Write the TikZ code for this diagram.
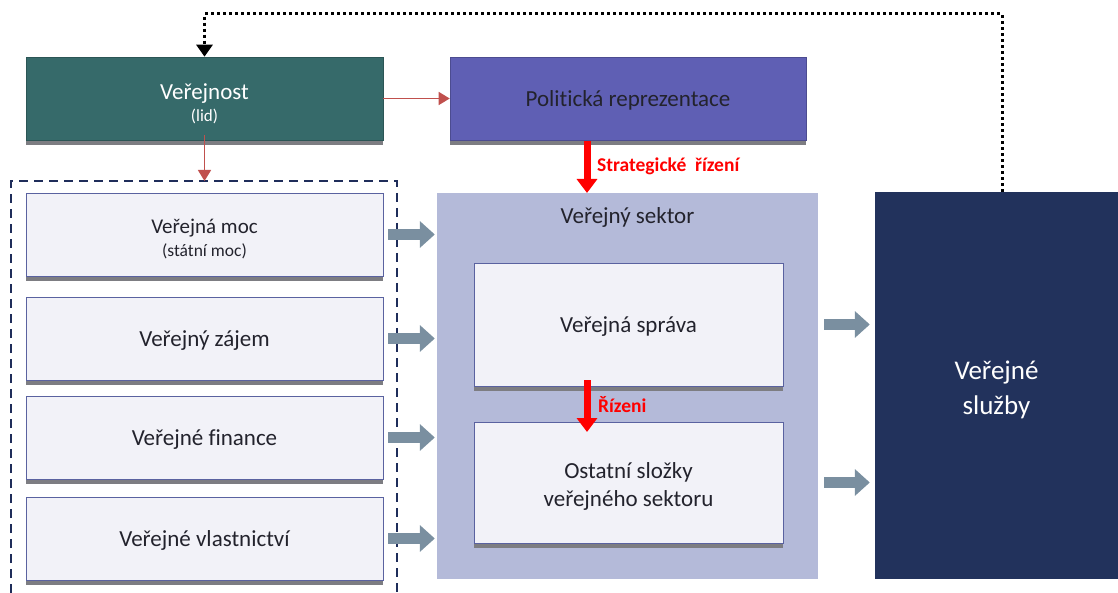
\documentclass[tikz,border=0pt]{standalone}
\usepackage{fontspec}
\setmainfont{Carlito}[Ligatures=CommonOff]
\usetikzlibrary{arrows.meta,shadows,calc}
\definecolor{tealbox}{RGB}{54,106,106}
\definecolor{purplebox}{RGB}{95,95,180}
\definecolor{sectorfill}{RGB}{180,186,217}
\definecolor{lightfill}{RGB}{242,242,248}
\definecolor{lightborder}{RGB}{90,98,160}
\definecolor{navybox}{RGB}{34,50,92}
\definecolor{arrowgray}{RGB}{122,143,160}
\definecolor{dashnavy}{RGB}{31,45,90}
\definecolor{darkred}{RGB}{192,80,77}
\definecolor{shadowgray}{RGB}{125,125,130}
\definecolor{txtdark}{RGB}{35,35,45}
\begin{document}
\begin{tikzpicture}[x=1pt,y=-1pt,
  mainfont/.style={font=\fontsize{23}{28}\selectfont},
  shadowed/.style={drop shadow={shadow xshift=0pt,shadow yshift=-5pt,fill=shadowgray,opacity=1}},
  lightbox/.style={draw=lightborder,line width=0.8pt,fill=lightfill,inner sep=0pt,
    align=center,text=txtdark,mainfont,shadowed},
  leftbox/.style={lightbox,minimum width=357pt,minimum height=83pt},
  innerbox/.style={lightbox,minimum width=309pt},
  oneline/.style={text depth=0pt},
  blockarrow/.style={draw=arrowgray,line width=11pt,-{Triangle[length=15pt,width=26pt]}},
  redthin/.style={draw=darkred,line width=1.5pt,-{Triangle[length=11pt,width=13pt]}},
  redthick/.style={draw=red,line width=7pt,-{Triangle[length=14pt,width=20pt]}},
  redlabel/.style={text=red,font=\fontsize{19.5}{22}\selectfont\bfseries,inner sep=0pt}
]
\useasboundingbox (0,0) rectangle (1118,593);

% top row
\node[shadowed,fill=tealbox,draw=tealbox!80!black,line width=0.6pt,minimum width=357pt,minimum height=83pt,
  inner sep=0pt,align=center,text=white,mainfont] (ver) at (204.5,98.5)
  {\rule{0pt}{26pt}Veřejnost\\[-6pt]{\fontsize{17}{20}\selectfont (lid)}};
\node[shadowed,fill=purplebox,draw=purplebox!80!black,line width=0.6pt,minimum width=356pt,minimum height=83pt,
  inner sep=0pt,text=txtdark,mainfont,oneline] (pol) at (628,98.5) {Politická reprezentace};

% dashed frame
\coordinate (dtop) at (204.5,181);
\draw[dashnavy,line width=2pt,dash pattern=on 9pt off 6pt] (11,593) -- (11,181) -- (397,181) -- (397,593);

% left boxes
\node[leftbox] (m1) at (204.5,234.5)
  {\rule{0pt}{24pt}{\fontsize{21}{26}\selectfont Veřejná moc}\\[-5pt]{\fontsize{17.5}{20}\selectfont (státní moc)}};
\node[leftbox,oneline] (m2) at (204.5,338.5) {Veřejný zájem};
\node[leftbox,oneline] (m3) at (204.5,437.5) {Veřejné finance};
\node[leftbox,oneline] (m4) at (204.5,538.5) {Veřejné vlastnictví};

% public sector
\node[fill=sectorfill,minimum width=381pt,minimum height=386pt,inner sep=0pt] (sector) at (627.5,386) {};
\node[text=txtdark,mainfont,inner sep=0pt,oneline] (sectortitle) at (627.5,216) {Veřejný sektor};
\node[innerbox,oneline,minimum height=123pt] (sprava) at (628.5,324.5) {Veřejná správa};
\node[innerbox,minimum height=121pt] (ostatni) at (628.5,482.5)
  {\rule{0pt}{24pt}Ostatní složky\\veřejného sektoru};

% public services
\node[fill=navybox,minimum width=243pt,minimum height=387pt,inner sep=0pt,text=white,align=center,
  font=\fontsize{27}{35}\selectfont] (sluzby) at (996.5,385.5) {\rule{0pt}{28pt}Veřejné\\služby};

% red thin arrows
\draw[redthin] (ver.east) -- (pol.west);
\draw[redthin] ([yshift=5pt]ver.south) -- (dtop);

% strategic arrow
\coordinate (s1) at (587,141);
\coordinate (s2) at (587,193);
\draw[redthick] (s1) -- (s2);
\node[redlabel,anchor=west] (stratlbl) at (597,166) {Strategické\ \ řízení};

% internal management arrow
\coordinate (r1) at (587,380);
\coordinate (r2) at (587,432);
\draw[redthick] (r1) -- (r2);
\node[redlabel,anchor=west] (rizlbl) at (598,405) {Řízeni};

% block arrows into sector
\foreach \m in {m1,m2,m3,m4}{
  \draw[blockarrow,shorten <=5pt,shorten >=2pt] (\m.east) -- (\m.east -| sector.west);
}
% block arrows into services
\draw[blockarrow,shorten <=6pt,shorten >=5pt] (sprava -| sector.east) -- (sprava -| sluzby.west);
\draw[blockarrow,shorten <=6pt,shorten >=5pt] (ostatni -| sector.east) -- (ostatni -| sluzby.west);

% dotted feedback
\coordinate (t1) at (1002,14);
\coordinate (t2) at (204.5,14);
\draw[black,line width=3pt,dash pattern=on 3pt off 3pt,-{Triangle[length=12pt,width=16pt]}]
  (sluzby.north -| t1) -- (t1) -- (t2) -- (ver.north);
\end{tikzpicture}
\end{document}
